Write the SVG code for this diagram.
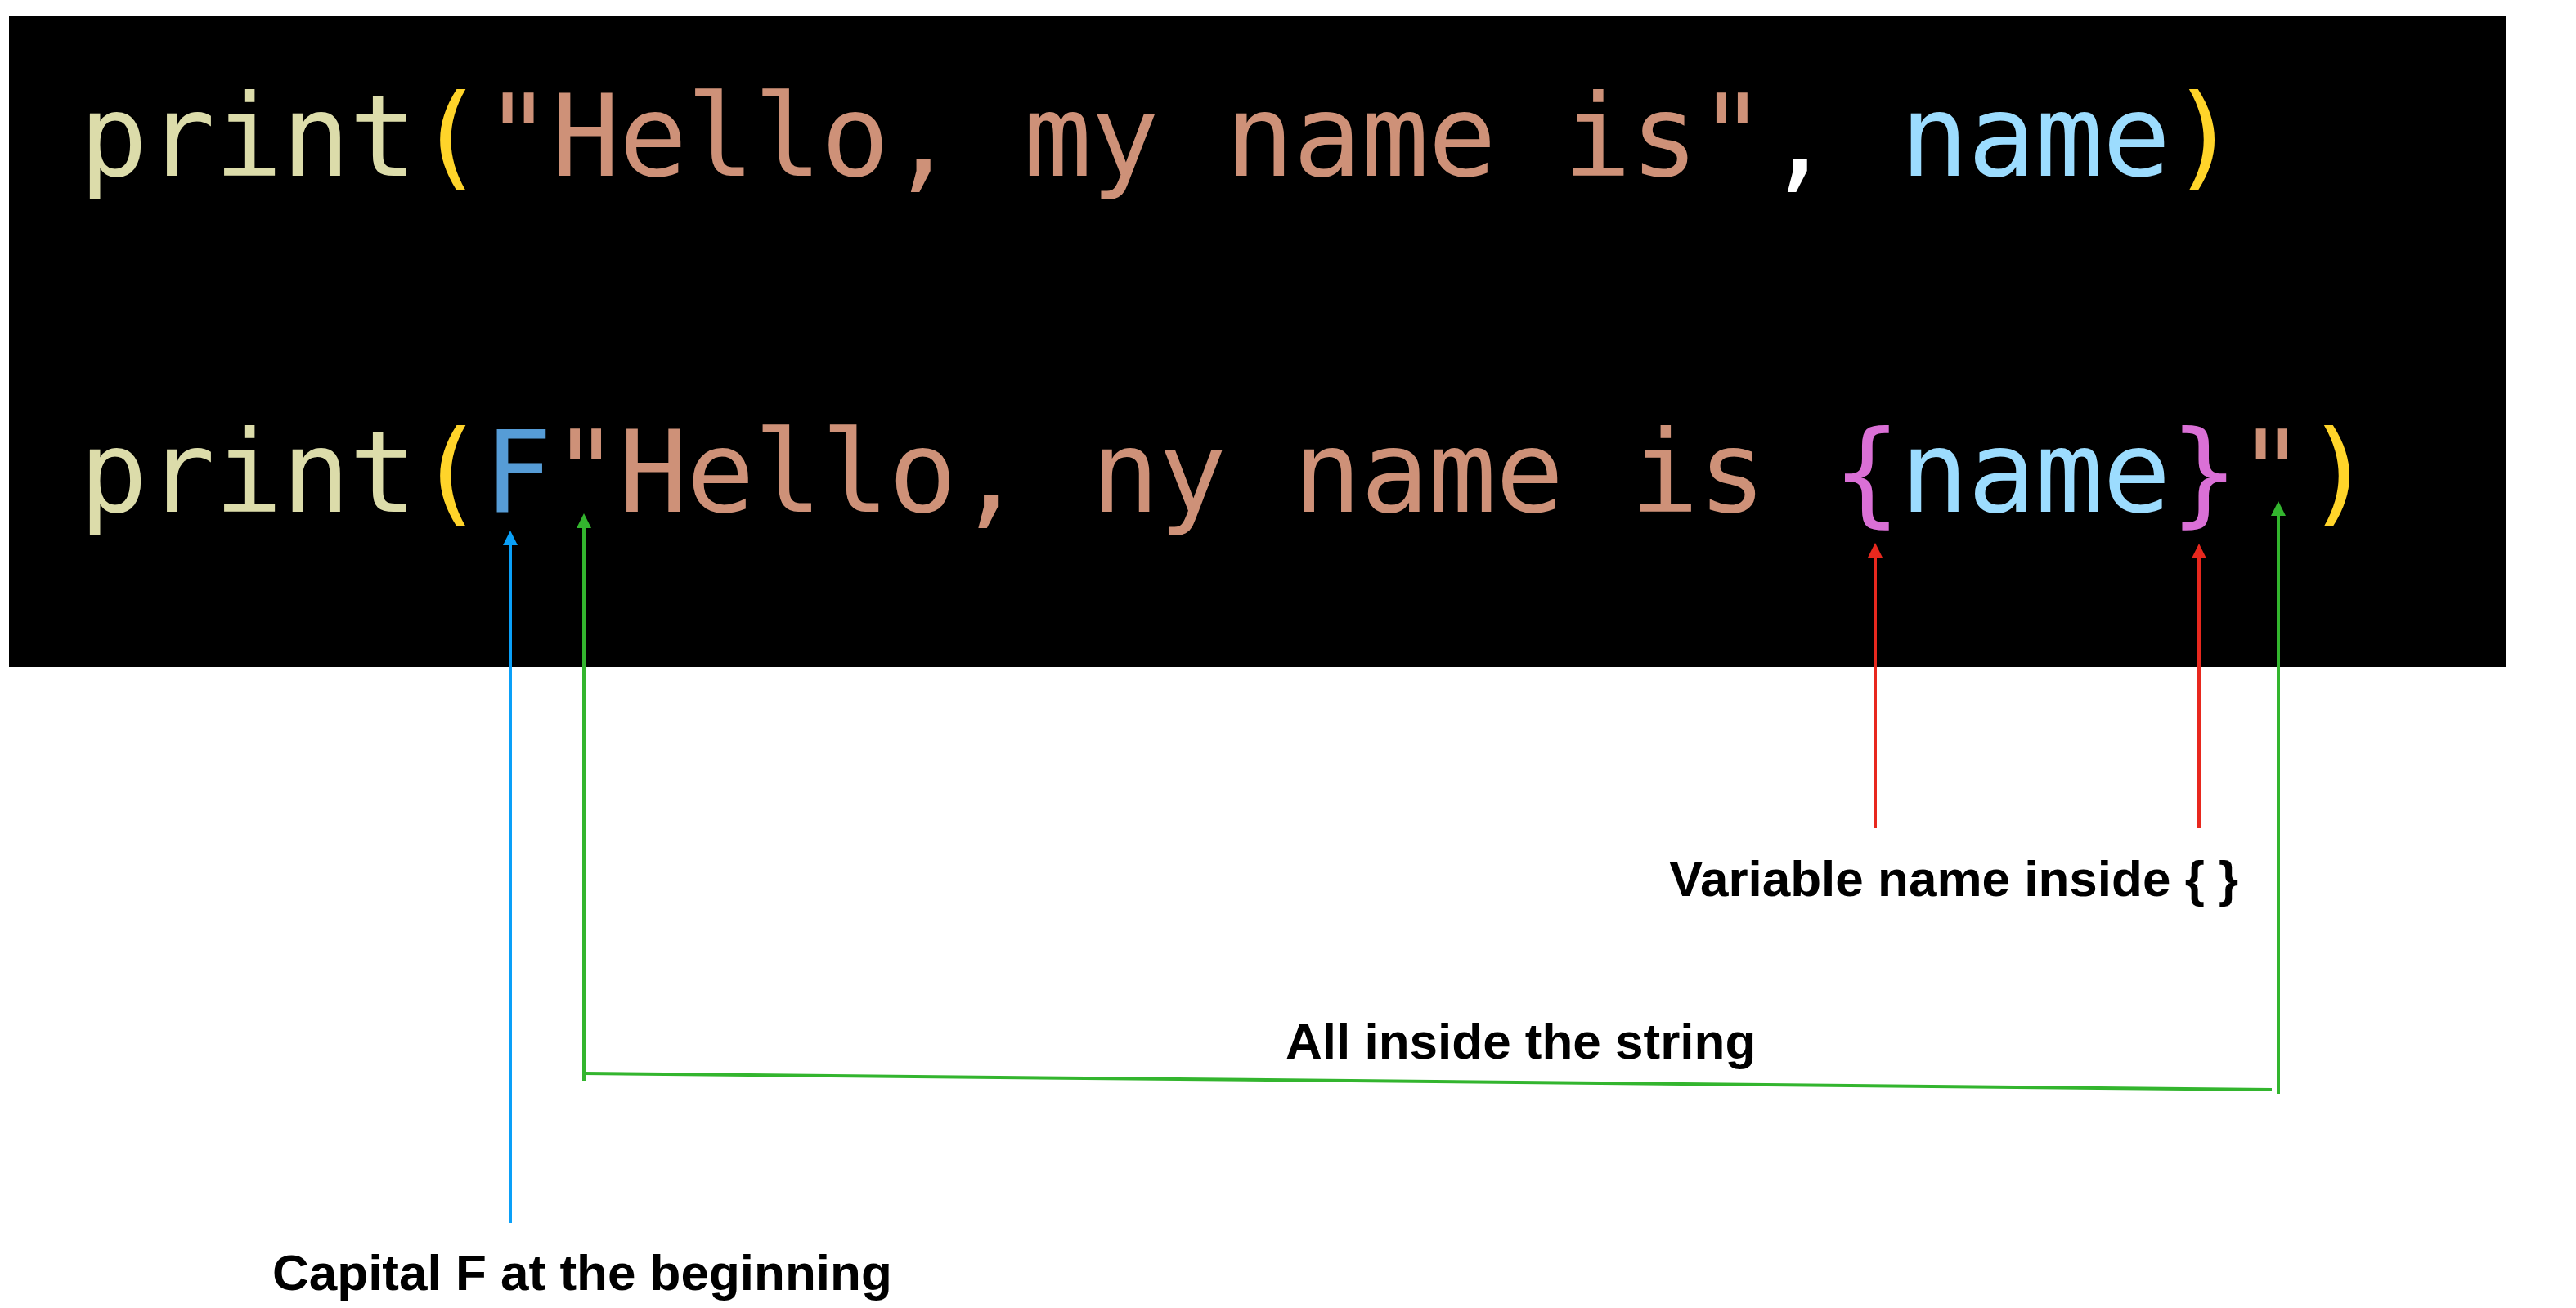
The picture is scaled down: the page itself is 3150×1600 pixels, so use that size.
<svg xmlns="http://www.w3.org/2000/svg" width="3150" height="1600" viewBox="0 0 3150 1600">
  <style>
    .code { font-family: "DejaVu Sans Mono", "Liberation Mono", monospace; font-size: 139px; white-space: pre; }
    .fn { fill: #DCDCAA; }
    .par { fill: #FFD42A; }
    .str { fill: #CE9178; }
    .pun { fill: #FFFFFF; }
    .var { fill: #9CDCFE; }
    .kw { fill: #569CD6; }
    .brc { fill: #DA70D6; }
    .label { font-family: "Liberation Sans", Arial, sans-serif; font-weight: bold; font-size: 62px; fill: #000000; }
    .blue { stroke: #0AA0F8; stroke-width: 4; fill: none; }
    .green { stroke: #33B52E; stroke-width: 4; fill: none; }
    .red { stroke: #E8281E; stroke-width: 4; fill: none; }
  </style>
  <defs>
    <marker id="ah-blue" markerUnits="userSpaceOnUse" markerWidth="18" markerHeight="18" viewBox="0 0 18 18" refX="0" refY="9" orient="auto">
      <path d="M0,0 L18,9 L0,18 Z" fill="#0AA0F8"/>
    </marker>
    <marker id="ah-green" markerUnits="userSpaceOnUse" markerWidth="18" markerHeight="18" viewBox="0 0 18 18" refX="0" refY="9" orient="auto">
      <path d="M0,0 L18,9 L0,18 Z" fill="#33B52E"/>
    </marker>
    <marker id="ah-red" markerUnits="userSpaceOnUse" markerWidth="18" markerHeight="18" viewBox="0 0 18 18" refX="0" refY="9" orient="auto">
      <path d="M0,0 L18,9 L0,18 Z" fill="#E8281E"/>
    </marker>
  </defs>

  <rect x="0" y="0" width="3150" height="1600" fill="#FFFFFF"/>

  <g id="code-panel">
    <rect x="11" y="19" width="3054" height="797" fill="#000000"/>
    <text id="code-line-1" class="code" x="97" y="215" textLength="2640" lengthAdjust="spacing"><tspan class="fn">print</tspan><tspan class="par">(</tspan><tspan class="str">"Hello, my name is"</tspan><tspan class="pun">, </tspan><tspan class="var">name</tspan><tspan class="par">)</tspan></text>
    <text id="code-line-2" class="code" x="97" y="626" textLength="2805" lengthAdjust="spacing"><tspan class="fn">print</tspan><tspan class="par">(</tspan><tspan class="kw">F</tspan><tspan class="str">"Hello, ny name is </tspan><tspan class="brc">{</tspan><tspan class="var">name</tspan><tspan class="brc">}</tspan><tspan class="str">"</tspan><tspan class="par">)</tspan></text>
  </g>

  <g id="connectors">
    <line class="blue" x1="624" y1="1496" x2="624" y2="667" marker-end="url(#ah-blue)"/>
    <line class="green" x1="714" y1="1322" x2="714" y2="646" marker-end="url(#ah-green)"/>
    <line class="red" x1="2293" y1="1013" x2="2293" y2="682" marker-end="url(#ah-red)"/>
    <line class="red" x1="2689" y1="1013" x2="2689" y2="683" marker-end="url(#ah-red)"/>
    <line class="green" x1="2786" y1="1338" x2="2786" y2="631" marker-end="url(#ah-green)"/>
    <line class="green" x1="714" y1="1313" x2="2778" y2="1333"/>
  </g>

  <g id="label-variable">
    <text class="label" x="2041" y="1096">Variable name inside { }</text>
  </g>
  <g id="label-string">
    <text class="label" x="1572" y="1295">All inside the string</text>
  </g>
  <g id="label-capital">
    <text class="label" x="333" y="1578">Capital F at the beginning</text>
  </g>
</svg>
